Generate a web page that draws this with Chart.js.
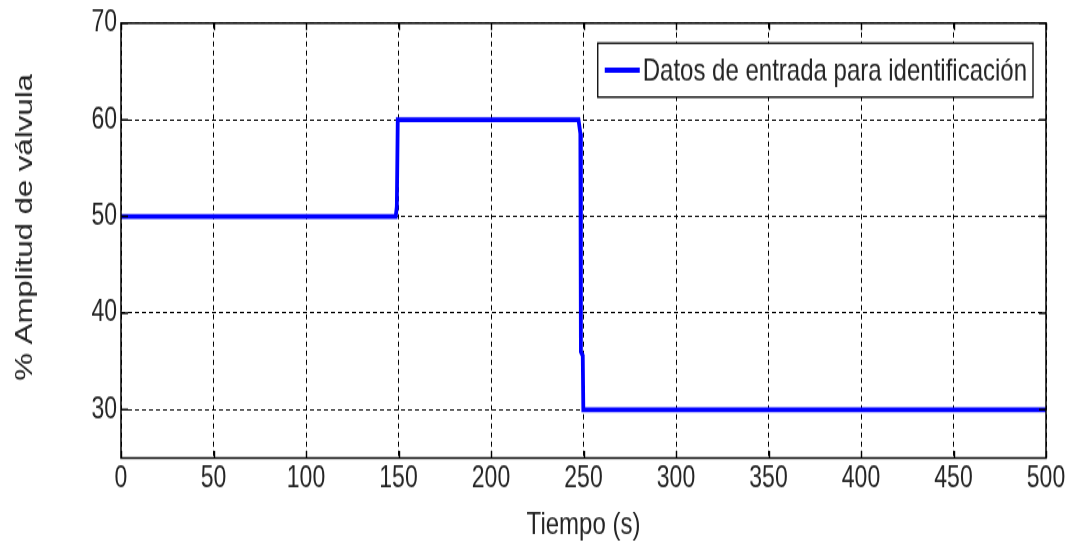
<!DOCTYPE html>
<html>
<head>
<meta charset="utf-8">
<script src="https://cdn.jsdelivr.net/npm/chart.js@4.4.1/dist/chart.umd.min.js"></script>
<style>
  html, body { margin: 0; padding: 0; background: #fff; width: 1074px; height: 547px; overflow: hidden; }
  #figura { position: relative; width: 1074px; height: 547px; overflow: hidden; }
  /* the figure is drawn at 1074x421 and shown stretched to 547px tall */
  #wrap { position: absolute; left: 0; top: 0; width: 1074px; height: 421px; transform-origin: 0 0; transform: scaleY(1.29929); }
  #c { display: block; }
</style>
</head>
<body>
<div id="figura"><div id="wrap"><canvas id="c" width="1074" height="421"></canvas></div></div>
<script>
// Input signal used for identification: valve opening (%) versus time (s)
const tiempo   = [0, 148.5, 149.1, 149.6, 247.3, 248.3, 248.6, 249.6, 249.9, 500];
const amplitud = [50, 50, 51, 60, 60, 58.6, 36, 35.6, 30, 30];

const xTicks = [0, 50, 100, 150, 200, 250, 300, 350, 400, 450, 500];
const yTicks = [30, 40, 50, 60, 70];

const serieNombre = 'Datos de entrada para identificación';
const tituloX = 'Tiempo (s)';
const tituloY = '% Amplitud de válvula';

const FONT = "'Liberation Sans', Arial, sans-serif";
const TEXT = '#242424';
const KY = 547 / 421;   // vertical stretch of the displayed figure

// Box frame with inward tick marks on all four sides
const marco = {
  id: 'marco',
  afterDraw(chart) {
    const { ctx, chartArea: a, scales: { x, y } } = chart;
    const LX = 7, LY = 7 / KY;
    ctx.save();
    ctx.strokeStyle = '#000';
    ctx.lineWidth = 1.4;
    ctx.setLineDash([]);
    ctx.beginPath();
    x.ticks.forEach(t => {
      const p = Math.round(x.getPixelForValue(t.value)) + 0.5;
      ctx.moveTo(p, a.bottom); ctx.lineTo(p, a.bottom - LY);
      ctx.moveTo(p, a.top); ctx.lineTo(p, a.top + LY);
    });
    y.ticks.forEach(t => {
      const p = y.getPixelForValue(t.value);
      ctx.moveTo(a.left, p); ctx.lineTo(a.left + LX, p);
      ctx.moveTo(a.right, p); ctx.lineTo(a.right - LX, p);
    });
    ctx.stroke();
    ctx.lineWidth = 1.5;
    ctx.strokeRect(a.left, a.top, a.right - a.left, a.bottom - a.top);
    ctx.restore();
  }
};

// Rotated y-axis title
const tituloEjeY = {
  id: 'tituloEjeY',
  afterDraw(chart) {
    const { ctx } = chart;
    ctx.save();
    ctx.translate(25, 175);
    ctx.rotate(-Math.PI / 2);
    ctx.font = '24px ' + FONT;
    ctx.fillStyle = TEXT;
    ctx.textAlign = 'center';
    ctx.textBaseline = 'middle';
    ctx.fillText(tituloY, 0, 0);
    ctx.restore();
  }
};

// Boxed legend placed inside the plot, top right
const leyenda = {
  id: 'leyenda',
  afterDatasetsDraw(chart) {
    const { ctx, chartArea: a } = chart;
    const ds = chart.data.datasets[0];
    ctx.save();
    ctx.font = '24px ' + FONT;
    const tw = ctx.measureText(ds.label).width;
    const h = 54 / KY, padL = 7, lineW = 35, gap = 3, padR = 6;
    const w = padL + lineW + gap + tw + padR;
    const right = a.right - 13, top = a.top + 15.4;
    const left = right - w;
    ctx.fillStyle = '#fff';
    ctx.fillRect(left, top, w, h);
    ctx.strokeStyle = '#000';
    ctx.lineWidth = 1.3;
    ctx.setLineDash([]);
    ctx.strokeRect(left, top, w, h);
    ctx.strokeStyle = ds.borderColor;
    ctx.lineWidth = ds.borderWidth;
    ctx.beginPath();
    ctx.moveTo(left + padL, top + h / 2);
    ctx.lineTo(left + padL + lineW, top + h / 2);
    ctx.stroke();
    ctx.fillStyle = TEXT;
    ctx.textBaseline = 'middle';
    ctx.fillText(ds.label, left + padL + lineW + gap, top + h / 2 + 1);
    ctx.restore();
  }
};

new Chart(document.getElementById('c'), {
  type: 'line',
  data: {
    datasets: [{
      label: serieNombre,
      data: tiempo.map((t, i) => ({ x: t, y: amplitud[i] })),
      borderColor: '#0000ff',
      borderWidth: 3.8,
      pointRadius: 0,
      tension: 0,
      fill: false,
      borderJoinStyle: 'miter'
    }]
  },
  options: {
    responsive: false,
    animation: false,
    layout: { padding: { left: 0, right: 28, top: 17.7, bottom: 0 } },
    plugins: {
      legend: { display: false },
      tooltip: { enabled: false }
    },
    scales: {
      x: {
        type: 'linear',
        min: 0, max: 500,
        afterBuildTicks: s => { s.ticks = xTicks.map(v => ({ value: v })); },
        afterFit: s => { s.height = 68.5; },
        grid: { color: '#000', lineWidth: 1, drawTicks: false },
        border: { display: false, dash: [4, 3] },
        ticks: { color: TEXT, font: { family: FONT, size: 23 }, padding: 2, maxRotation: 0 },
        title: { display: true, text: tituloX, color: TEXT, font: { family: FONT, size: 24 }, padding: { top: 4, bottom: 2 } }
      },
      y: {
        type: 'linear',
        min: 25, max: 70,
        afterBuildTicks: s => { s.ticks = yTicks.map(v => ({ value: v })); },
        afterFit: s => { s.width = 121; },
        grid: { color: '#000', lineWidth: 1, drawTicks: false },
        border: { display: false, dash: [4, 3] },
        ticks: { color: TEXT, font: { family: FONT, size: 23 }, padding: 4 },
        title: { display: false }
      }
    }
  },
  plugins: [leyenda, marco, tituloEjeY]
});
</script>
</body>
</html>
